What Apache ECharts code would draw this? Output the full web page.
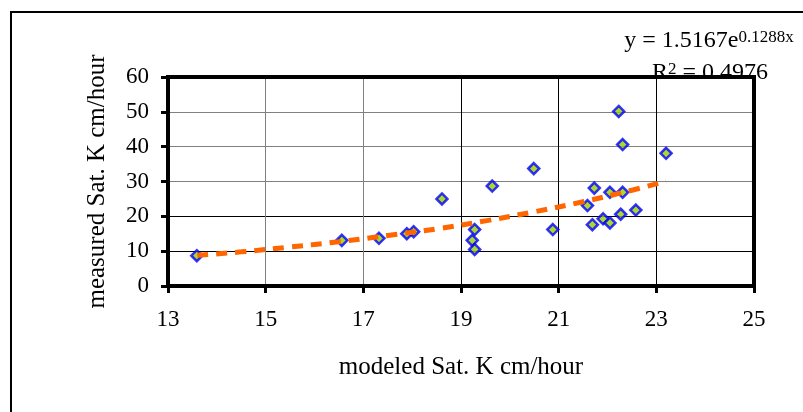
<!DOCTYPE html>
<html>
<head>
<meta charset="utf-8">
<script src="https://cdn.jsdelivr.net/npm/echarts@6/dist/echarts.min.js"></script>
<style>
  html, body { margin: 0; padding: 0; background: #fff; }
  #main { width: 803px; height: 412px; }
</style>
</head>
<body>
<div id="main"></div>
<script>
// measured vs modeled points
var modeledK = [13.59, 16.56, 17.32, 17.89, 18.03, 18.61, 19.28, 19.23, 19.28, 19.64, 20.49, 20.88,
                21.59, 21.73, 21.69, 21.91, 22.05, 22.05, 22.23, 22.31, 22.31, 22.27, 22.58, 23.20];
var measuredK = [8.7, 13.1, 13.7, 15.0, 15.6, 25.0, 16.2, 13.1, 10.5, 28.7, 33.7, 16.2,
                 23.1, 28.1, 17.6, 19.3, 26.9, 18.1, 50.1, 40.6, 26.9, 20.6, 21.8, 38.1];

// trendline
var trendX = [13.6, 14.5, 15.5, 16.5, 17.5, 18.5, 19.5, 20.5, 21.5, 22.5, 23.2];
var trendY = [8.8, 9.8, 11.2, 12.7, 14.5, 16.4, 18.7, 21.3, 24.2, 27.5, 30.1];

var eqMain = 'y = 1.5167e';
var eqSup = '0.1288x';
var r2Text = '0.4976';

var font = "'Liberation Serif', 'Times New Roman', serif";

var pts = [];
for (var i = 0; i < modeledK.length; i++) {
    pts.push([modeledK[i], measuredK[i]]);
}
var trend = [];
for (var i = 0; i < trendX.length; i++) {
    trend.push([trendX[i], trendY[i]]);
}

var myChart = echarts.init(document.getElementById('main'));

var option = {
    backgroundColor: '#fff',
    animation: false,
    grid: {
        left: 168, top: 77, right: 49, bottom: 126,
        show: true,
        borderColor: '#000',
        borderWidth: 4,
        z: 2
    },
    xAxis: {
        type: 'value',
        min: 13, max: 25, interval: 2,
        name: 'modeled Sat. K cm/hour',
        nameLocation: 'middle',
        nameGap: 69,
        nameTextStyle: { fontFamily: font, fontSize: 25, color: '#000' },
        axisLine: { lineStyle: { color: '#000', width: 4 } },
        axisTick: { show: true, length: 7, lineStyle: { color: '#000', width: 3 } },
        axisLabel: { margin: 22, fontFamily: font, fontSize: 23, color: '#000' },
        splitLine: {
            show: true,
            lineStyle: { color: ['#000', '#808080', '#808080', '#000', '#000', '#000', '#000'], width: 1 }
        }
    },
    yAxis: {
        type: 'value',
        min: 0, max: 60, interval: 10,
        name: 'measured Sat. K cm/hour',
        nameLocation: 'middle',
        nameGap: 58,
        nameTextStyle: { fontFamily: font, fontSize: 25, color: '#000' },
        axisLine: { show: true, lineStyle: { color: '#000', width: 4 } },
        axisTick: { show: true, length: 7, lineStyle: { color: '#000', width: 3 } },
        axisLabel: { margin: 19, fontFamily: font, fontSize: 23, color: '#000' },
        splitLine: {
            show: true,
            lineStyle: { color: ['#000', '#000', '#000', '#808080', '#808080', '#808080', '#000'], width: 1 }
        }
    },
    graphic: [
        {
            type: 'rect',
            shape: { x: 11, y: 12, width: 900, height: 500 },
            style: { fill: 'none', stroke: '#000', lineWidth: 2 },
            z: -5
        },
        {
            type: 'text',
            x: 709, y: 41,
            z: -1,
            style: {
                text: '{a|' + eqMain + '}{b|' + eqSup + '}',
                align: 'center',
                verticalAlign: 'middle',
                rich: {
                    a: { fontFamily: font, fontSize: 24, fill: '#000', verticalAlign: 'bottom' },
                    b: { fontFamily: font, fontSize: 17, fill: '#000', verticalAlign: 'top' }
                }
            }
        },
        {
            type: 'text',
            x: 710, y: 73,
            z: -1,
            style: {
                text: '{a|R}{b|2}{a| = ' + r2Text + '}',
                align: 'center',
                verticalAlign: 'middle',
                rich: {
                    a: { fontFamily: font, fontSize: 24, fill: '#000', verticalAlign: 'bottom' },
                    b: { fontFamily: font, fontSize: 17, fill: '#000', verticalAlign: 'top' }
                }
            }
        }
    ],
    series: [
        {
            type: 'scatter',
            data: pts,
            symbol: 'diamond',
            symbolSize: 11,
            itemStyle: { color: '#99CC00', borderColor: '#0000FF', borderWidth: 2.5 },
            z: 3
        },
        {
            type: 'line',
            data: trend,
            smooth: true,
            showSymbol: false,
            lineStyle: { color: '#FF6600', width: 5, type: [11, 8] },
            z: 4
        }
    ]
};

myChart.setOption(option);
</script>
</body>
</html>
